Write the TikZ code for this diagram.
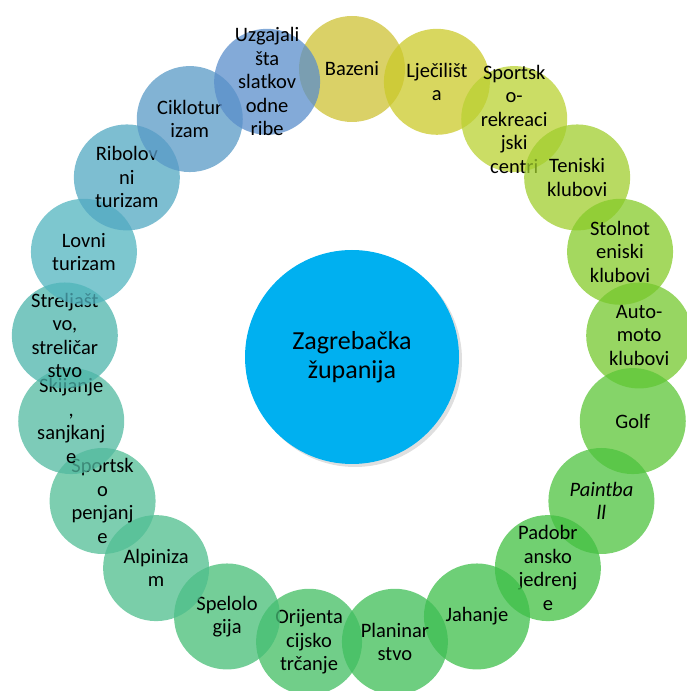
\documentclass[tikz,border=0pt]{standalone}
\usepackage{fontspec}
\setmainfont{Carlito}
\usetikzlibrary{shadows}
\definecolor{zupanija}{RGB}{0,176,240}
\definecolor{c0}{RGB}{206,194,52}
\definecolor{c1}{RGB}{203,201,42}
\definecolor{c2}{RGB}{186,209,50}
\definecolor{c3}{RGB}{160,206,45}
\definecolor{c4}{RGB}{134,203,42}
\definecolor{c5}{RGB}{116,200,45}
\definecolor{c6}{RGB}{92,198,55}
\definecolor{c7}{RGB}{78,195,63}
\definecolor{c8}{RGB}{66,192,66}
\definecolor{c9}{RGB}{62,191,74}
\definecolor{c10}{RGB}{62,190,85}
\definecolor{c11}{RGB}{65,190,98}
\definecolor{c12}{RGB}{70,190,118}
\definecolor{c13}{RGB}{78,190,140}
\definecolor{c14}{RGB}{81,190,150}
\definecolor{c15}{RGB}{81,185,160}
\definecolor{c16}{RGB}{76,180,171}
\definecolor{c17}{RGB}{81,180,191}
\definecolor{c18}{RGB}{82,168,194}
\definecolor{c19}{RGB}{88,153,198}
\definecolor{c20}{RGB}{90,142,203}

\begin{document}
\begin{tikzpicture}[x=1pt,y=1pt,
	ball/.style={circle,minimum size=106pt,inner sep=0pt,fill opacity=0.75},
	ball text/.style={align=center,font=\fontsize{20.5}{23.5}\selectfont},
	county/.style={circle,fill=zupanija,minimum size=214pt,inner sep=0pt,
		align=center,font=\fontsize{26}{29}\selectfont,
		drop shadow={shadow xshift=3pt,shadow yshift=-3pt,opacity=0.25}}]
	
	\useasboundingbox (0,0) rectangle (686,691);
	\node[county] (zg) at (352,334) {Zagrebačka\\županija};
	\foreach \n/\t [count=\i from 0] in {
		bazeni/{Bazeni},
		ljeciliste/{Lječilišt\\a},
		rekreacija/{Sportsk\\o-\\rekreaci\\jski\\centri},
		tenis/{Teniski\\klubovi},
		stolnitenis/{Stolnot\\eniski\\klubovi},
		automoto/{Auto-\\moto\\klubovi},
		golf/{Golf},
		paintball/{\textit{Paintba}\\\textit{ll}},
		padobran/{Padobr\\ansko\\jedrenj\\e},
		jahanje/{Jahanje},
		planinarstvo/{Planinar\\stvo},
		orijentacija/{Orijenta\\cijsko\\trčanje},
		speleologija/{Spelolo\\gija},
		alpinizam/{Alpiniza\\m},
		penjanje/{Sportsk\\o\\penjanj\\e},
		skijanje/{Skijanje\\,\\sanjkanj\\e},
		streljastvo/{Streljašt\\vo,\\streličar\\stvo},
		lov/{Lovni\\turizam},
		ribolov/{Ribolov\\ni\\turizam},
		ciklo/{Ciklotur\\izam},
		ribnjak/{Uzgajali\\šta\\slatkov\\odne\\ribe}}
	{
		\pgfmathsetmacro{\a}{90-\i*360/21}
		\node[ball,fill=c\i] (\n) at ([shift={(\a:288)}]zg) {};
		\node[ball text] (\n-t) at (\n) {\t};
	}
\end{tikzpicture}
\end{document}
